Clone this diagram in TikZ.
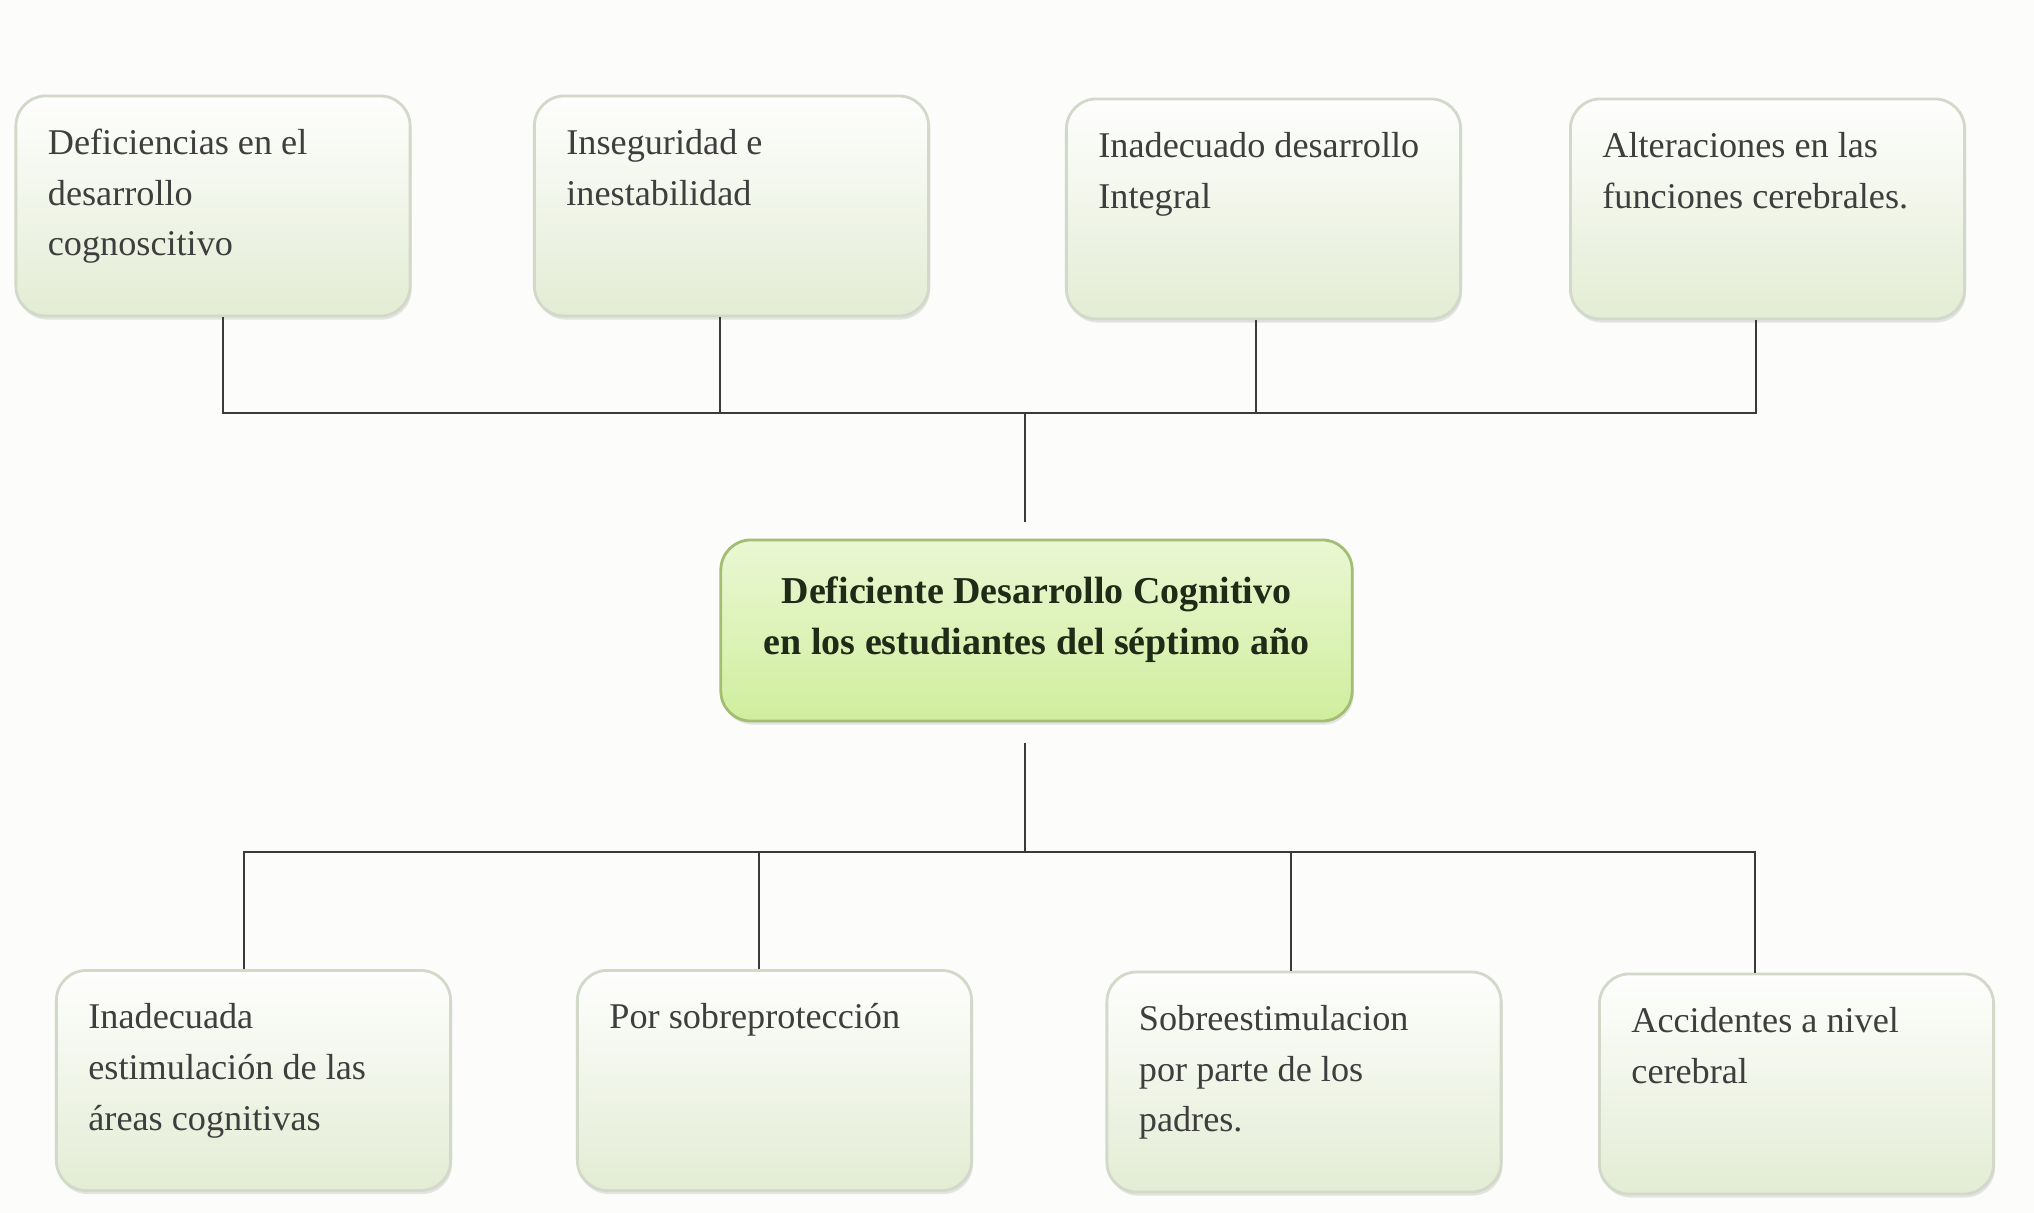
\documentclass[tikz,border=0pt]{standalone}
\usepackage{fontspec}
\setmainfont{Liberation Serif}
\usetikzlibrary{shadows}

\definecolor{fondo}{HTML}{FCFCFB}
\definecolor{linea}{HTML}{3A3A3A}
\definecolor{texto}{HTML}{3E3E3E}
\definecolor{bordecaja}{HTML}{D2D9C9}
\definecolor{verdeclaro}{HTML}{E3ECD4}
\definecolor{verdecentro}{HTML}{D0EE9E}
\definecolor{bordecentro}{HTML}{A3BD72}
\definecolor{textocentro}{HTML}{1F2A17}

\newcommand{\textocaja}[1]{\parbox[c][1.74cm][t]{3.30cm}{\raggedright\strut #1}}
\newcommand{\textocentro}[1]{\parbox[c][1.25cm][t]{5.91cm}{\centering\strut #1}}

\begin{document}
\begin{tikzpicture}[
        x=0.01cm, y=-0.01cm,
        caja/.style={draw=bordecaja, line width=0.8pt, rounded corners=0.3cm,
            top color=white!96!verdeclaro, bottom color=verdeclaro,
            inner xsep=0.32cm, inner ysep=0.23cm, text=texto,
            font=\fontsize{10.3}{14.4}\selectfont,
            drop shadow={shadow xshift=0.4pt, shadow yshift=-1pt, opacity=0.2}},
        principal/.style={caja, draw=bordecentro, top color=verdecentro!45!white,
            bottom color=verdecentro, inner xsep=0.2cm, inner ysep=0.28cm,
            text=textocentro, font=\fontsize{10.8}{14.4}\selectfont\bfseries},
        conector/.style={draw=linea, line width=0.6pt},
    ]
    \path[fill=fondo] (0,0) rectangle (2034,1213);

    % efectos
    \node[caja](deficiencias) at (213,206) {\textocaja{Deficiencias en el\\ desarrollo\\ cognoscitivo}};
    \node[caja](inseguridad) at (731.5,206) {\textocaja{Inseguridad e\\ inestabilidad}};
    \node[caja](inadecuado) at (1263.5,209) {\textocaja{Inadecuado desarrollo\\ Integral}};
    \node[caja](alteraciones) at (1767.5,209) {\textocaja{Alteraciones en las\\ funciones cerebrales.}};

    % problema
    \node[principal](centro) at (1036.5,630.5) {\textocentro{Deficiente Desarrollo Cognitivo\\ en los estudiantes del séptimo año}};

    % causas
    \node[caja](estimulacion) at (253.5,1080.5) {\textocaja{Inadecuada\\ estimulación de las\\ áreas cognitivas}};
    \node[caja](sobreproteccion) at (774.5,1080.5) {\textocaja{Por sobreprotección}};
    \node[caja](sobreestimulacion) at (1304,1082) {\textocaja{Sobreestimulacion\\ por parte de los\\ padres.}};
    \node[caja](accidentes) at (1796.5,1084) {\textocaja{Accidentes a nivel\\ cerebral}};

    \coordinate (s1) at (223,413);
    \coordinate (s2) at (720,413);
    \coordinate (s3) at (1256,413);
    \coordinate (s4) at (1756,413);
    \coordinate (sup) at (1025,413);
    \coordinate (i1) at (244,852);
    \coordinate (i2) at (759,852);
    \coordinate (i3) at (1291,852);
    \coordinate (i4) at (1755,852);
    \coordinate (inf) at (1025,852);

    \draw[conector] (deficiencias.south -| s1) -- (s1) -- (s4) -- (alteraciones.south -| s4);
    \draw[conector] (inseguridad.south -| s2) -- (s2);
    \draw[conector] (inadecuado.south -| s3) -- (s3);
    \draw[conector, shorten >=0.17cm] (sup) -- (centro.north -| sup);
    \draw[conector, shorten <=0.21cm] (centro.south -| inf) -- (inf);
    \draw[conector] (estimulacion.north -| i1) -- (i1) -- (i4) -- (accidentes.north -| i4);
    \draw[conector] (sobreproteccion.north -| i2) -- (i2);
    \draw[conector] (sobreestimulacion.north -| i3) -- (i3);

\end{tikzpicture}
\end{document}
